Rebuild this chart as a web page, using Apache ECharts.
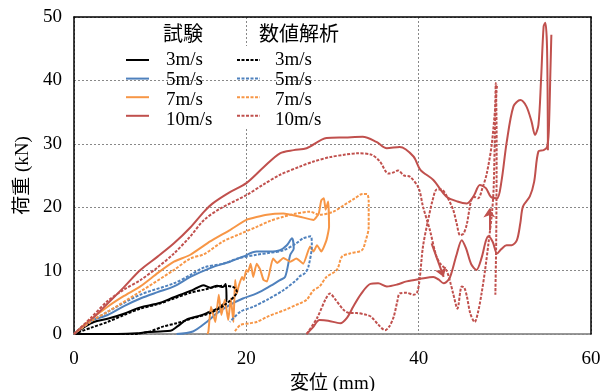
<!DOCTYPE html>
<html>
<head>
<meta charset="utf-8">
<script src="https://cdn.jsdelivr.net/npm/echarts@6/dist/echarts.min.js"></script>
<style>
  html, body { margin: 0; padding: 0; background: #fff; }
  #chart { width: 601px; height: 391px; }
</style>
</head>
<body>
<div id="chart"></div>
<script>
// Load–displacement curves: test (solid) vs. numerical analysis (dotted)
const speeds = ['3m/s', '5m/s', '7m/s', '10m/s'];
const xTicks = [0, 20, 40, 60];
const yTicks = [0, 10, 20, 30, 40, 50];

// Test results [displacement mm, load kN]
const test3 = [[0,0],[1.2,1.1],[2.3,1.9],[3.9,2.4],[5.8,3.2],[7.7,4.2],[9.7,4.8],[11.6,5.8],[13.5,6.8],[14.3,7.3],[15.0,7.7],[15.8,7.3],[16.6,7.6],[17.3,7.4],[17.6,7.9],[17.7,5.4],[16.6,4.0],[15.4,3.3],[14.6,2.9],[13.8,2.6],[13.1,2.3],[12.0,1.2],[11.2,0.5],[10.0,0.4],[8.5,0.3],[7.3,0.1],[5.0,0],[2.0,0],[0,0]];
const test5 = [[0,0],[1.0,1.2],[2.0,2.1],[3.9,3.0],[5.8,4.4],[7.7,5.6],[9.7,6.6],[11.6,7.5],[13.5,9.0],[15.8,10.4],[18.1,11.4],[19.6,12.2],[21.2,13.0],[22.7,13.0],[23.9,13.2],[24.7,14.0],[25.3,15.1],[25.5,13.5],[25.1,12.5],[24.5,9.0],[23.9,8.5],[22.7,7.5],[21.2,6.4],[19.6,5.6],[18.1,4.6],[16.6,3.3],[15.4,1.9],[13.8,0.4],[11.9,0]];
const test7 = [[0,0],[1.5,1.8],[3.9,4.3],[5.8,6.0],[7.7,7.5],[9.7,9.6],[11.6,11.4],[13.5,12.5],[15.8,14.6],[18.1,16.4],[20.0,18.0],[22.4,18.8],[24.3,19.0],[26.2,18.5],[27.8,18.0],[28.4,19.0],[28.7,21.1],[29.0,21.4],[29.2,19.6],[29.5,20.9],[29.6,16.9],[29.3,14.8],[28.7,13.0],[28.2,14.0],[27.8,13.0],[27.4,13.8],[26.6,11.1],[25.8,11.9],[25.1,11.4],[24.3,12.0],[23.6,11.2],[23.1,11.9],[22.4,8.3],[22.0,8.5],[21.6,10.2],[21.2,11.1],[20.8,9.0],[20.5,11.1],[20.2,9.8],[20.0,10.1],[19.7,8.5],[19.5,9.0],[19.1,7.5],[18.9,6.4],[18.7,8.5],[18.5,1.9],[18.2,5.6],[17.9,2.2],[17.5,5.4],[17.1,3.0],[16.8,6.2],[16.4,1.9],[15.9,4.3],[15.6,0.4],[15.5,0]];
const test10First = [[0,0],[1.5,1.6],[3.9,4.8],[5.8,7.4],[7.7,10.1],[9.7,12.2],[11.6,14.3],[13.5,16.8],[15.1,19.3],[16.1,20.6],[18.0,22.3],[20.0,23.8],[22.0,26.3],[23.9,28.5],[25.5,29.0],[27.0,29.3],[29.3,30.9],[31.5,31.0],[33.5,31.1],[35.1,30.3],[36.3,29.3],[37.8,29.5],[39.4,28.0],[40.2,25.9],[41.7,24.3],[43.2,21.7],[44.5,20.9],[45.6,20.6],[46.4,21.8],[47.1,23.5],[47.8,23.0],[48.4,21.6],[49.1,21.4],[49.6,24.0],[50.2,30.1],[51.0,35.9],[51.8,36.9],[52.5,35.9],[53.1,33.5],[53.5,31.4],[53.9,33.0],[54.2,40.0],[54.5,48.5],[54.7,49.1],[54.9,45.0],[55.0,29.0]];
const test10Second = [[27.0,0],[27.7,1.0],[28.5,2.2],[29.5,2.1],[30.9,1.7],[31.7,2.6],[32.4,4.3],[33.3,6.3],[34.4,7.9],[35.3,8.0],[36.3,7.5],[37.5,7.8],[38.6,8.3],[40.2,8.7],[41.7,9.0],[42.3,8.6],[42.9,8.0],[43.5,8.6],[43.8,9.6],[44.4,12.5],[45.0,14.8],[45.5,13.5],[46.1,11.0],[46.7,10.1],[47.3,12.0],[47.8,14.7],[48.1,15.4],[48.6,14.5],[49.1,12.7],[49.6,13.4],[50.2,14.0],[50.8,14.0],[51.4,14.8],[51.8,17.5],[52.1,20.1],[52.9,21.7],[53.4,24.0],[53.9,28.8],[54.5,29.0],[54.9,29.5],[55.1,32.0],[55.3,42.0],[55.4,47.2]];

// Numerical analysis results [displacement mm, load kN]
const calc3 = [[0,0],[2.0,1.0],[3.9,1.9],[5.8,3.0],[7.7,4.0],[9.7,4.7],[11.6,5.6],[13.5,6.5],[15.1,7.0],[17.3,7.6],[18.5,7.4],[18.9,6.7],[17.7,4.8],[15.8,3.3],[13.8,2.5],[11.9,1.7],[10.4,1.2],[8.8,0.4],[7.0,0],[0,0]];
const calc5 = [[0,0],[2.0,2.0],[3.9,3.5],[7.7,6.2],[11.6,8.0],[13.5,9.3],[15.1,10.5],[17.3,11.1],[19.0,11.9],[21.2,12.5],[22.7,12.8],[24.3,13.2],[25.8,14.3],[26.6,15.1],[27.5,15.4],[27.6,14.0],[27.2,10.6],[26.8,9.6],[26.2,9.1],[25.8,8.5],[24.3,6.9],[22.4,5.4],[20.8,4.3],[19.3,3.5],[18.1,1.9]];
const calc7 = [[0,0],[2.0,2.0],[3.9,3.5],[7.7,6.7],[11.6,10.1],[13.5,11.9],[15.1,12.6],[17.3,14.6],[19.3,15.8],[21.2,16.9],[22.7,17.8],[24.3,18.5],[25.8,19.0],[27.4,19.3],[28.5,18.8],[30.1,19.3],[31.3,20.3],[32.6,21.4],[33.5,22.1],[34.0,22.1],[34.2,20.9],[34.2,16.9],[33.8,14.5],[33.4,13.2],[32.0,12.7],[31.1,12.2],[30.5,10.1],[29.3,9.0],[28.5,7.5],[27.8,6.9],[27.0,5.4],[26.2,4.8],[25.8,4.6],[24.5,3.8],[23.5,3.3],[22.4,2.7],[21.2,1.9],[20.4,1.7],[19.3,1.4],[18.6,0.3]];
const calc10First = [[0,0],[2.0,2.6],[3.9,5.2],[5.8,7.0],[7.7,8.5],[9.7,10.5],[11.6,12.7],[13.5,15.4],[15.1,18.0],[17.0,19.8],[20.0,21.9],[22.0,23.6],[23.9,25.1],[26.2,26.4],[27.8,27.2],[29.7,27.9],[31.5,28.3],[32.8,28.5],[34.5,28.3],[35.5,27.2],[36.5,25.3],[37.1,25.5],[37.6,25.8],[38.3,25.0],[39.0,24.8],[40.0,23.0],[40.5,20.1],[41.3,16.4],[42.0,12.5],[42.5,11.1],[43.2,10.1],[43.7,8.0],[44.0,6.4],[44.5,4.0],[45.0,7.5],[45.3,7.3],[45.6,5.9],[46.0,3.2],[46.5,1.9],[46.9,3.5],[47.3,6.4],[47.7,10.0],[48.1,14.3],[48.5,19.0],[48.7,23.0],[48.85,32.0],[48.95,39.6],[49.05,30.0],[49.0,15.0],[48.9,6.2]];
const calc10Second = [[27.0,0],[28.2,2.5],[29.2,5.5],[29.7,6.4],[30.3,5.5],[31.3,3.8],[32.0,3.3],[32.8,3.3],[34.0,3.0],[34.5,2.7],[35.3,1.5],[36.1,0.6],[36.6,1.2],[37.1,2.7],[37.5,5.0],[37.8,6.4],[38.6,6.5],[39.4,6.2],[39.8,6.5],[40.1,8.5],[40.5,13.8],[41.1,18.0],[41.6,21.0],[42.1,22.8],[42.6,22.8],[43.2,21.9],[44.0,19.6],[44.4,17.5],[44.8,15.6],[45.2,15.8],[45.6,17.4],[46.1,21.1],[46.5,21.6],[46.9,21.4],[47.4,23.0],[47.9,25.3],[48.5,30.1],[49.1,39.4]];

// Arrows marking the cycle direction on the 10 m/s curves
const arrowDown = [[41.5,14.3],[42.9,9.0]];
const arrowUp = [[48.2,16.4],[48.2,19.8]];

const colors = ['#000000', '#4F81BD', '#F79646', '#C0504D'];
const TEST = '試験', CALC = '数値解析';
const serifFont = "'Liberation Serif', 'Times New Roman', 'Noto Sans CJK JP', serif";

// Legend box layout (pixels)
const LEGEND_TOP = 50, ROW_H = 20;
const COLS = [{ group: TEST, icon: 125, text: 166 }, { group: CALC, icon: 236, text: 275 }];

function curve(name, data, color, dotted, extra) {
  return Object.assign({
    name: name,
    type: 'line',
    data: data,
    showSymbol: false,
    symbol: 'none',
    smooth: 0.3,
    animation: false,
    z: 2,
    lineStyle: { color: color, width: 2, type: dotted ? [3, 1.5] : 'solid' },
    itemStyle: { color: color }
  }, extra || {});
}

const arrowMark = {
  silent: true,
  symbol: ['none', 'arrow'],
  symbolSize: 9,
  label: { show: false },
  lineStyle: { color: colors[3], width: 2, type: 'solid' },
  data: [
    [{ coord: arrowDown[0] }, { coord: arrowDown[1] }],
    [{ coord: arrowUp[0] }, { coord: arrowUp[1] }]
  ]
};

const testData = [test3, test5, test7, test10First];
const calcData = [calc3, calc5, calc7, calc10First];
const series = [];
speeds.forEach((s, i) => {
  series.push(curve(TEST + ' ' + s, testData[i], colors[i], false, i === 2 ? { smooth: 0.15 } : null));
});
series.push(curve(TEST + ' 10m/s', test10Second, colors[3], false, { markLine: arrowMark }));
speeds.forEach((s, i) => {
  series.push(curve(CALC + ' ' + s, calcData[i], colors[i], true));
});
series.push(curve(CALC + ' 10m/s', calc10Second, colors[3], true));

// Legend icons come from the library; speed labels are set flush left beside them
function legendFor(col) {
  return {
    data: speeds.map(s => col.group + ' ' + s),
    orient: 'vertical',
    left: col.icon,
    top: LEGEND_TOP + 3,
    padding: 0,
    itemWidth: 23,
    itemHeight: 14,
    itemGap: ROW_H - 14,
    align: 'left',
    selectedMode: false,
    itemStyle: { opacity: 0 },
    formatter: () => '',
    textStyle: { fontSize: 1 }
  };
}

const legendLabels = [];
COLS.forEach(col => {
  speeds.forEach((s, i) => {
    legendLabels.push({
      type: 'text', x: col.text, y: LEGEND_TOP + 10 + i * ROW_H, z: 5, silent: true,
      style: { text: s, fontFamily: serifFont, fontSize: 19, fill: '#000', align: 'left', verticalAlign: 'middle' }
    });
  });
});

const chart = echarts.init(document.getElementById('chart'), null, { renderer: 'canvas' });
chart.setOption({
  backgroundColor: '#fff',
  animation: false,
  grid: { left: 74, right: 10, top: 17, bottom: 57, containLabel: false, outerBoundsMode: 'none' },
  xAxis: [{
    type: 'value', min: xTicks[0], max: xTicks[xTicks.length - 1], interval: 20,
    name: '変位 (mm)', nameLocation: 'middle', nameGap: 41,
    nameTextStyle: { fontFamily: serifFont, fontSize: 19, color: '#000' },
    axisLine: { show: true, lineStyle: { color: '#777', width: 1.5 } },
    axisTick: { show: false },
    axisLabel: { fontFamily: serifFont, fontSize: 19, color: '#000', margin: 16 },
    splitLine: { show: true, lineStyle: { color: '#888', width: 1, type: [2, 2] } }
  }, {
    type: 'value', position: 'top', min: xTicks[0], max: xTicks[xTicks.length - 1], z: 3,
    axisLine: { show: true, onZero: false, lineStyle: { color: '#000', width: 1.5 } },
    axisTick: { show: false }, axisLabel: { show: false }, splitLine: { show: false }
  }],
  yAxis: [{
    type: 'value', min: yTicks[0], max: yTicks[yTicks.length - 1], interval: 10, z: 1,
    name: '荷重 (kN)', nameLocation: 'middle', nameGap: 38, nameRotate: 90,
    nameTextStyle: { fontFamily: serifFont, fontSize: 19, color: '#000' },
    axisLine: { show: true, onZero: false, lineStyle: { color: '#000', width: 1.5 } },
    axisTick: { show: false },
    axisLabel: { fontFamily: serifFont, fontSize: 19, color: '#000', margin: 12 },
    splitLine: { show: true, lineStyle: { color: '#888', width: 1, type: [2, 2] } }
  }, {
    type: 'value', position: 'right', min: yTicks[0], max: yTicks[yTicks.length - 1], z: 3,
    axisLine: { show: true, onZero: false, lineStyle: { color: '#000', width: 1.5 } },
    axisTick: { show: false }, axisLabel: { show: false }, splitLine: { show: false }
  }],
  legend: COLS.map(legendFor),
  graphic: [
    { type: 'rect', left: 115, top: 46, shape: { width: 222, height: 83 }, style: { fill: '#fff' }, z: 1, silent: true },
    { type: 'text', left: 163, top: 26, style: { text: TEST, fontFamily: serifFont, fontSize: 20, fill: '#000' }, z: 5 },
    { type: 'text', left: 259, top: 26, style: { text: CALC, fontFamily: serifFont, fontSize: 20, fill: '#000' }, z: 5 }
  ].concat(legendLabels),
  series: series
});
</script>
</body>
</html>
